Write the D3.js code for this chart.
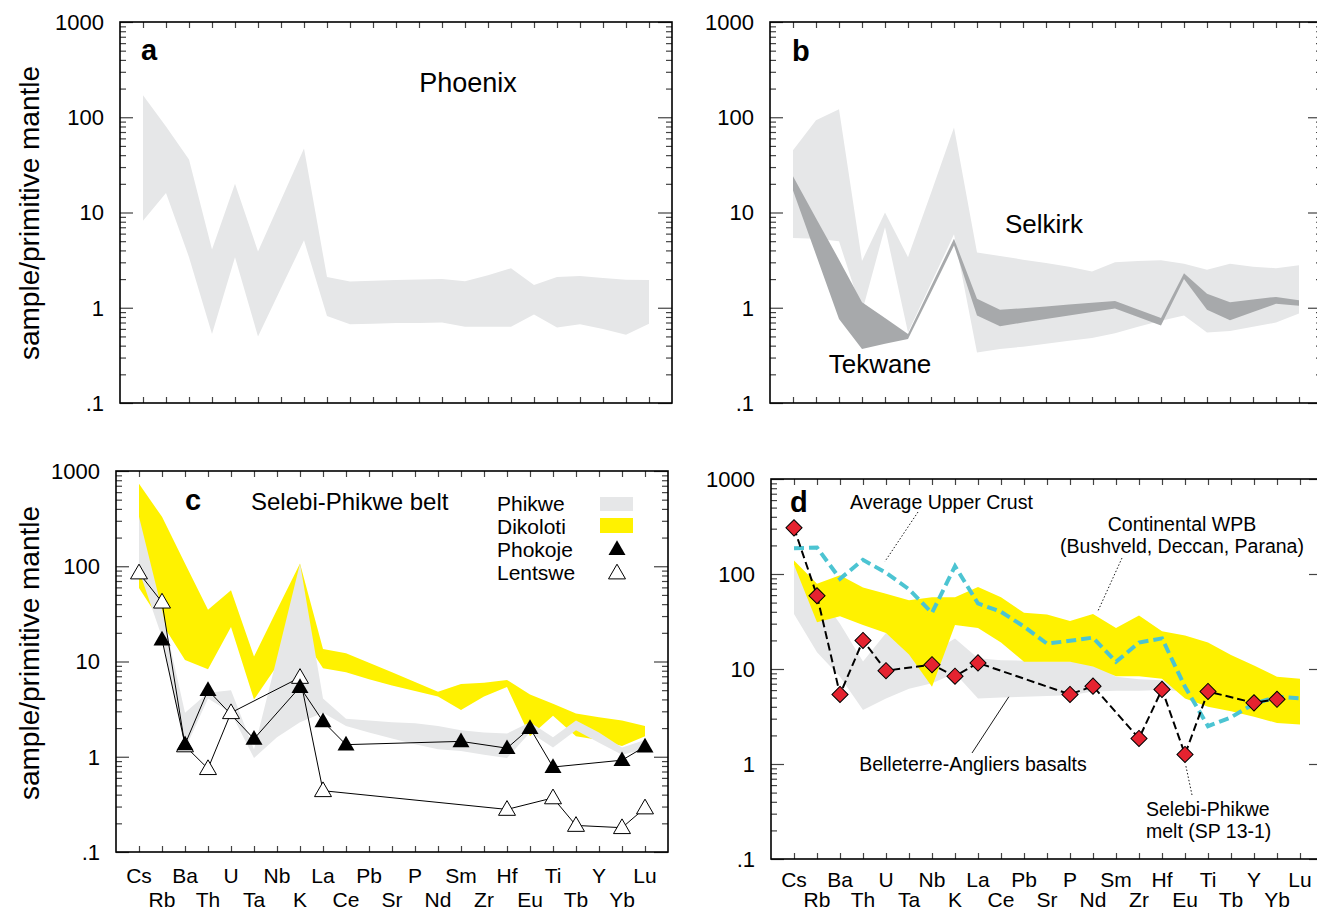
<!DOCTYPE html>
<html>
<head>
<meta charset="utf-8">
<script src="https://cdn.jsdelivr.net/npm/d3@7"></script>
<style>
body { margin: 0; background: #fff; }
text { font-family: "Liberation Sans", Arial, Helvetica, sans-serif; fill: #000; }
</style>
</head>
<body>
<script>
// trace elements, primitive-mantle normalised
var elements = ["Cs","Rb","Ba","Th","U","Ta","Nb","K","La","Ce","Pb","Sr","P","Nd","Sm","Zr","Hf","Eu","Ti","Tb","Y","Yb","Lu"];
var majorTicks = [0.1, 1, 10, 100, 1000];

// a - Phoenix range
var phoenixHi = [170, 80, 36, 4.1, 20, 3.9, 13.5, 47, 2.1, 1.89, 1.92, 1.95, 1.98, 2.0, 1.9, 2.2, 2.6, 1.73, 2.1, 2.15, 2.05, 1.97, 1.95];
var phoenixLo = [8.2, 16, 3.4, 0.53, 3.4, 0.50, 1.6, 5.1, 0.82, 0.67, 0.68, 0.69, 0.69, 0.70, 0.63, 0.63, 0.63, 0.85, 0.62, 0.67, 0.6, 0.52, 0.68];

// b - Selkirk and Tekwane ranges
var selkirkHi = [45, 93, 121, 3.1, 10, 3.4, 16, 78, 3.8, 3.5, 3.2, 2.95, 2.7, 2.4, 3.0, 3.1, 3.15, 2.9, 2.5, 2.9, 2.7, 2.6, 2.8];
var selkirkLo = [5.4, 5.3, 5.0, 0.9, 7.0, 0.55, 1.8, 5.9, 0.34, 0.37, 0.39, 0.42, 0.45, 0.48, 0.54, 0.63, 0.73, 0.83, 0.55, 0.57, 0.63, 0.70, 0.87];
var tekwaneHi = [24, 8.7, 3.2, 1.14, 0.78, 0.53, 1.68, 5.3, 1.24, 0.95, 0.99, 1.03, 1.08, 1.13, 1.18, 0.96, 0.78, 2.3, 1.4, 1.14, 1.22, 1.3, 1.2];
var tekwaneLo = [17, 3.6, 0.76, 0.37, 0.42, 0.47, 1.45, 4.5, 0.83, 0.64, 0.70, 0.76, 0.83, 0.90, 0.98, 0.8, 0.65, 2.0, 0.95, 0.74, 0.9, 1.1, 1.05];

// c - Selebi-Phikwe belt
var dikolotiHi = [736, 330, 107, 35, 56, 11.3, 35, 107, 13.5, 12.2, 9.7, 7.7, 6.1, 4.8, 5.8, 6.0, 6.4, 4.5, 3.6, 2.85, 2.6, 2.4, 2.1];
var dikolotiLo = [59, 25, 10.4, 8.3, 23, 4.0, 9, 20, 8.5, 7.7, 6.5, 5.6, 4.9, 4.3, 3.1, 4.3, 5.4, 1.64, 2.7, 1.64, 1.5, 1.3, 1.64];
var phikweHi = [330, 35, 2.9, 4.7, 5.0, 1.19, 11, 107, 4.1, 2.5, 2.4, 2.3, 2.25, 2.1, 1.9, 1.8, 1.75, 2.3, 1.6, 2.4, 1.8, 1.25, 1.5];
var phikweLo = [90, 18, 1.2, 4.1, 2.9, 0.97, 1.6, 2.3, 2.9, 2.1, 1.8, 1.55, 1.35, 1.2, 1.15, 1.05, 0.97, 1.8, 1.25, 1.9, 1.4, 1.05, 1.2];
var phokoje = [null, 17, 1.35, 5.0, null, 1.54, null, 5.4, 2.35, 1.34, null, null, null, null, 1.45, null, 1.23, 2.0, 0.78, null, null, 0.92, 1.28];
var lentswe = [85, 42, 1.3, 0.75, 2.9, null, null, 6.8, 0.44, null, null, null, null, null, null, null, 0.28, null, 0.37, 0.19, null, 0.18, 0.29];

// d - comparison
var wpbHi = [139, 79, 97, 72, 62, 53, 57, 57, 73, 57, 39, 37.5, 32, 38, 27, 36.5, 25, 22.5, 19, 14, 10.9, 8.3, 7.9];
var wpbLo = [125, 31, 36, 29, 24, 14.2, 6.5, 29, 27, 19, 11.9, 11.9, 11.9, 10.6, 8.4, 8.4, 7.9, 4.9, 4.0, 3.6, 3.15, 2.7, 2.6];
var bellHi = [123, 65, 30, 12, 24, 16, 15, 21, 13, 12.4, 12.2, 12, 12, 11.3, 8.3, 7.8, 7.6, 7.2, 7.1, 7.4, 7.0, 6.2, 5.8];
var bellLo = [38, 15, 8.3, 3.7, 4.9, 6.2, 7.1, 9, 4.9, 5.0, 5.1, 5.2, 5.3, 5.8, 5.9, 5.9, 6.0, 5.8, 5.7, 5.7, 5.6, 5.4, 5.6];
var upperCrust = [187, 190, 89, 141, 103, 69, 39, 121, 49, 40, 28, 18.5, 19.8, 21.4, 11.9, 19, 21, 6.5, 2.5, 3.1, 4.3, 5.1, 4.9];
var meltSP = [306, 59, 5.4, 20, 9.6, null, 11.1, 8.4, 11.6, null, null, null, 5.4, 6.6, null, 1.86, 6.1, 1.26, 5.8, null, 4.4, 4.8, null];

var grey = "#e6e7e8", darkGrey = "#a7a9ab", yellow = "#fff200", cyan = "#4cc4d2", red = "#e52330";

var svg = d3.select("body").append("svg")
	.attr("width", 1317)
	.attr("height", 914);

// sets up one spider diagram panel, returns its scales
function makePanel(p) {
	var x = d3.scaleLinear().domain([-1, 23]).range([p.left, p.left + 552]);
	var y = d3.scaleLog().domain([0.1, 1000]).range([p.bottom, p.top]);
	var g = svg.append("g");
	return {x: x, y: y, g: g, p: p};
}

function band(P, hi, lo, color) {
	var area = d3.area()
		.x(function(d, i) { return P.x(i); })
		.y0(function(d, i) { return P.y(lo[i]); })
		.y1(function(d, i) { return P.y(hi[i]); });
	P.g.append("path").attr("d", area(hi)).attr("fill", color);
}

function pts(vals) {
	var out = [];
	vals.forEach(function(v, i) { if (v != null) out.push([i, v]); });
	return out;
}

function frame(P, rows) {
	var x = P.x, y = P.y, p = P.p, g = P.g;
	var x0 = p.left, x1 = p.left + 552;
	var minor = [];
	[0.1, 1, 10, 100].forEach(function(dec) {
		for (var k = 2; k < 10; k++) minor.push(k * dec);
	});
	var tickCol = "#444";
	function ticks(sel) { sel.selectAll("line").attr("stroke", tickCol).attr("stroke-width", 1.2); sel.select(".domain").remove(); }

	g.append("g").attr("transform", "translate(" + x0 + ",0)")
		.call(d3.axisRight(y).tickValues(minor).tickSize(6).tickFormat("")).call(ticks);
	g.append("g").attr("transform", "translate(" + x0 + ",0)")
		.call(d3.axisRight(y).tickValues(majorTicks).tickSize(13).tickFormat("")).call(ticks);
	g.append("g").attr("transform", "translate(" + x1 + ",0)")
		.call(d3.axisLeft(y).tickValues(minor).tickSize(6).tickFormat("")).call(ticks);
	g.append("g").attr("transform", "translate(" + x1 + ",0)")
		.call(d3.axisLeft(y).tickValues(majorTicks).tickSize(14).tickFormat("")).call(ticks);
	g.append("g").attr("transform", "translate(0," + p.bottom + ")")
		.call(d3.axisTop(x).tickValues(d3.range(elements.length)).tickSize(6).tickFormat("")).call(ticks);
	g.append("g").attr("transform", "translate(0," + p.top + ")")
		.call(d3.axisBottom(x).tickValues(d3.range(elements.length)).tickSize(6).tickFormat("")).call(ticks);

	g.append("rect")
		.attr("x", x0).attr("y", p.top)
		.attr("width", x1 - x0).attr("height", p.bottom - p.top)
		.attr("fill", "none").attr("stroke", "#000").attr("stroke-width", 1.6);

	g.selectAll(".ylab").data(majorTicks).enter().append("text")
		.attr("x", x0 - 16)
		.attr("y", function(d) { return y(d); })
		.attr("dy", "0.36em")
		.attr("text-anchor", "end")
		.style("font-size", "22px")
		.text(function(d) { return d < 1 ? ".1" : String(d); });

	// element names in two staggered rows
	if (rows) {
		g.selectAll(".xlab").data(elements).enter().append("text")
			.attr("x", function(d, i) { return x(i); })
			.attr("y", function(d, i) { return p.bottom + (i % 2 == 0 ? rows[0] : rows[1]); })
			.attr("text-anchor", "middle")
			.style("font-size", "21px")
			.text(function(d) { return d; });
	}
}

function yTitle(cy) {
	svg.append("text")
		.attr("transform", "translate(39," + cy + ") rotate(-90)")
		.attr("text-anchor", "middle")
		.style("font-size", "28px")
		.text("sample/primitive mantle");
}

function label(g, tx, ty, txt, size, opts) {
	var t = g.append("text").attr("x", tx).attr("y", ty)
		.style("font-size", size + "px").text(txt);
	if (opts && opts.bold) t.style("font-weight", "bold");
	if (opts && opts.anchor) t.attr("text-anchor", opts.anchor);
	return t;
}

// ---- panel a ----
var A = makePanel({left: 120, top: 22, bottom: 403});
band(A, phoenixHi, phoenixLo, grey);
frame(A, null);
yTitle(213);
label(A.g, 141, 60, "a", 29, {bold: true});
label(A.g, 468, 92, "Phoenix", 27, {anchor: "middle"});

// ---- panel b ----
var B = makePanel({left: 770, top: 22, bottom: 403});
band(B, selkirkHi, selkirkLo, grey);
band(B, tekwaneHi, tekwaneLo, darkGrey);
frame(B, null);
label(B.g, 792, 61, "b", 29, {bold: true});
label(B.g, 1044, 233, "Selkirk", 26, {anchor: "middle"});
label(B.g, 880, 373, "Tekwane", 26, {anchor: "middle"});

// ---- panel c ----
var C = makePanel({left: 116, top: 471, bottom: 852});
band(C, dikolotiHi, dikolotiLo, yellow);
band(C, phikweHi, phikweLo, grey);

var line = d3.line()
	.x(function(d) { return C.x(d[0]); })
	.y(function(d) { return C.y(d[1]); });
var tri = d3.symbol(d3.symbolTriangle).size(125);

C.g.append("path").attr("d", line(pts(lentswe)))
	.attr("fill", "none").attr("stroke", "#000").attr("stroke-width", 1);
C.g.append("path").attr("d", line(pts(phokoje)))
	.attr("fill", "none").attr("stroke", "#000").attr("stroke-width", 1);
C.g.selectAll(".lt").data(pts(lentswe)).enter().append("path")
	.attr("d", tri)
	.attr("transform", function(d) { return "translate(" + C.x(d[0]) + "," + (C.y(d[1]) + 1) + ")"; })
	.attr("fill", "#fff").attr("stroke", "#000").attr("stroke-width", 1);
C.g.selectAll(".pk").data(pts(phokoje)).enter().append("path")
	.attr("d", tri)
	.attr("transform", function(d) { return "translate(" + C.x(d[0]) + "," + (C.y(d[1]) + 1) + ")"; })
	.attr("fill", "#000");

frame(C, [31, 55]);
yTitle(653);
label(C.g, 185, 510, "c", 29, {bold: true});
label(C.g, 251, 510, "Selebi-Phikwe belt", 24);

// legend
var legendNames = ["Phikwe", "Dikoloti", "Phokoje", "Lentswe"];
legendNames.forEach(function(n, i) {
	label(C.g, 497, 511 + i * 23, n, 21);
});
C.g.append("rect").attr("x", 600).attr("y", 497).attr("width", 33).attr("height", 14).attr("fill", grey);
C.g.append("rect").attr("x", 600).attr("y", 518).attr("width", 33).attr("height", 15).attr("fill", yellow);
C.g.append("path").attr("d", tri).attr("transform", "translate(617,550)").attr("fill", "#000");
C.g.append("path").attr("d", tri).attr("transform", "translate(617,574)")
	.attr("fill", "#fff").attr("stroke", "#000").attr("stroke-width", 1);

// ---- panel d ----
var D = makePanel({left: 771, top: 479, bottom: 859});
band(D, bellHi, bellLo, grey);
band(D, wpbHi, wpbLo, yellow);

var lineD = d3.line()
	.x(function(d) { return D.x(d[0]); })
	.y(function(d) { return D.y(d[1]); });

D.g.append("path").attr("d", lineD(pts(upperCrust)))
	.attr("fill", "none").attr("stroke", cyan).attr("stroke-width", 4)
	.attr("stroke-dasharray", "10,5");
D.g.append("path").attr("d", lineD(pts(meltSP)))
	.attr("fill", "none").attr("stroke", "#000").attr("stroke-width", 2)
	.attr("stroke-dasharray", "8,4");
var sq = d3.symbol(d3.symbolSquare).size(130);
D.g.selectAll(".dm").data(pts(meltSP)).enter().append("path")
	.attr("d", sq)
	.attr("transform", function(d) { return "translate(" + D.x(d[0]) + "," + D.y(d[1]) + ") rotate(45)"; })
	.attr("fill", red).attr("stroke", "#000").attr("stroke-width", 1);

frame(D, [28, 48]);
label(D.g, 790, 512, "d", 29, {bold: true});

// annotations in d
var ann = 19.5;
label(D.g, 850, 509, "Average Upper Crust", ann);
label(D.g, 1182, 531, "Continental WPB", ann, {anchor: "middle"});
label(D.g, 1182, 553, "(Bushveld, Deccan, Parana)", ann, {anchor: "middle"});
label(D.g, 973, 771, "Belleterre-Angliers basalts", ann, {anchor: "middle"});
label(D.g, 1146, 816, "Selebi-Phikwe", ann);
label(D.g, 1146, 838, "melt (SP 13-1)", ann);

function leader(x1, y1, i2, v2, dash) {
	D.g.append("line")
		.attr("x1", x1).attr("y1", y1)
		.attr("x2", D.x(i2)).attr("y2", D.y(v2))
		.attr("stroke", "#000").attr("stroke-width", 0.9)
		.attr("stroke-dasharray", dash ? "1.5,2" : null);
}
leader(918, 512, 3.95, 135, true);
leader(1122, 558, 13.2, 40, true);
leader(972, 753, 9.34, 5.1, false);
leader(1192, 795, 17.04, 0.95, true);
</script>
</body>
</html>
